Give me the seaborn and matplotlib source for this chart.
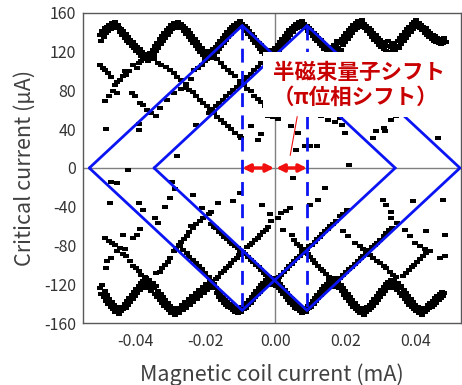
import numpy as np
import pandas as pd
import matplotlib
matplotlib.use("Agg")
import matplotlib.pyplot as plt
from matplotlib.ticker import MultipleLocator
import seaborn as sns

top_band = [
    (-0.0500, 137), (-0.0497, 131), (-0.0494, 141), (-0.0490, 135), (-0.0487, 144), (-0.0484, 139), (-0.0480, 146),
    (-0.0477, 141), (-0.0474, 148), (-0.0470, 143), (-0.0467, 150), (-0.0464, 145), (-0.0460, 147), (-0.0457, 151),
    (-0.0454, 144), (-0.0450, 148), (-0.0447, 145), (-0.0444, 140), (-0.0440, 143), (-0.0437, 137), (-0.0434, 141),
    (-0.0430, 134), (-0.0427, 138), (-0.0424, 131), (-0.0420, 135), (-0.0417, 129), (-0.0414, 132), (-0.0410, 126),
    (-0.0407, 130), (-0.0404, 124), (-0.0400, 127), (-0.0397, 121), (-0.0394, 125), (-0.0390, 119), (-0.0387, 123),
    (-0.0384, 116), (-0.0380, 120), (-0.0377, 114), (-0.0374, 118), (-0.0370, 112), (-0.0367, 117), (-0.0364, 110),
    (-0.0360, 115), (-0.0357, 119), (-0.0354, 113),
    (-0.0350, 122), (-0.0347, 117), (-0.0344, 126), (-0.0340, 121), (-0.0337, 129), (-0.0334, 124), (-0.0330, 133),
    (-0.0327, 128), (-0.0324, 136), (-0.0320, 131), (-0.0317, 139), (-0.0314, 134), (-0.0310, 142), (-0.0307, 137),
    (-0.0304, 145), (-0.0300, 140), (-0.0297, 148), (-0.0294, 143), (-0.0290, 150), (-0.0287, 146), (-0.0284, 149),
    (-0.0280, 145), (-0.0277, 151), (-0.0274, 147), (-0.0270, 149), (-0.0267, 144), (-0.0264, 147), (-0.0260, 141),
    (-0.0257, 145), (-0.0254, 138), (-0.0250, 142), (-0.0247, 135), (-0.0244, 139), (-0.0240, 132), (-0.0237, 136),
    (-0.0234, 129), (-0.0230, 133), (-0.0227, 126), (-0.0224, 130), (-0.0220, 123), (-0.0217, 127), (-0.0214, 120),
    (-0.0210, 124), (-0.0207, 117), (-0.0204, 121), (-0.0200, 115), (-0.0197, 119), (-0.0194, 112), (-0.0190, 117),
    (-0.0187, 121), (-0.0184, 114), (-0.0180, 119), (-0.0177, 123), (-0.0174, 117),
    (-0.0170, 125), (-0.0167, 120), (-0.0164, 128), (-0.0160, 123), (-0.0157, 131), (-0.0154, 126), (-0.0150, 134),
    (-0.0147, 129), (-0.0144, 137), (-0.0140, 132), (-0.0137, 140), (-0.0134, 135), (-0.0130, 143), (-0.0127, 138),
    (-0.0124, 146), (-0.0120, 141), (-0.0117, 148), (-0.0114, 144), (-0.0110, 150), (-0.0107, 146), (-0.0104, 149),
    (-0.0100, 152), (-0.0097, 146), (-0.0094, 149), (-0.0090, 144), (-0.0087, 147), (-0.0084, 141), (-0.0080, 144),
    (-0.0077, 138), (-0.0074, 141), (-0.0070, 135), (-0.0067, 138), (-0.0064, 132), (-0.0060, 135), (-0.0057, 129),
    (-0.0054, 132), (-0.0050, 126), (-0.0047, 129), (-0.0044, 123), (-0.0040, 127), (-0.0037, 120), (-0.0034, 124),
    (-0.0030, 118), (-0.0027, 122), (-0.0024, 116), (-0.0020, 120), (-0.0017, 114), (-0.0014, 119), (-0.0010, 122),
    (-0.0007, 116), (-0.0004, 121),
    (0.0000, 124), (0.0003, 119), (0.0007, 127), (0.0010, 122), (0.0013, 130), (0.0017, 125), (0.0020, 133),
    (0.0023, 128), (0.0027, 136), (0.0030, 131), (0.0033, 139), (0.0037, 134), (0.0040, 142), (0.0043, 137),
    (0.0047, 145), (0.0050, 140), (0.0053, 147), (0.0057, 143), (0.0060, 149), (0.0063, 145), (0.0067, 151),
    (0.0070, 147), (0.0073, 149), (0.0077, 152), (0.0080, 146), (0.0083, 149), (0.0087, 144), (0.0090, 147),
    (0.0093, 141), (0.0097, 145), (0.0100, 139), (0.0103, 142), (0.0107, 136), (0.0110, 139), (0.0113, 133),
    (0.0117, 137), (0.0120, 131), (0.0123, 134), (0.0127, 128), (0.0130, 132), (0.0133, 126), (0.0137, 129),
    (0.0140, 123), (0.0143, 127), (0.0147, 121), (0.0150, 125), (0.0153, 120), (0.0157, 124), (0.0160, 119),
    (0.0163, 123), (0.0167, 127), (0.0170, 121), (0.0173, 126), (0.0177, 131),
    (0.0180, 124), (0.0183, 129), (0.0187, 122), (0.0190, 133), (0.0193, 127), (0.0197, 136), (0.0200, 130),
    (0.0203, 139), (0.0207, 133), (0.0210, 142), (0.0213, 136), (0.0217, 145), (0.0220, 139), (0.0223, 148),
    (0.0227, 142), (0.0230, 150), (0.0233, 145), (0.0237, 152), (0.0240, 147), (0.0243, 150), (0.0247, 153),
    (0.0250, 146), (0.0253, 149), (0.0257, 144), (0.0260, 147), (0.0263, 141), (0.0267, 145), (0.0270, 138),
    (0.0273, 142), (0.0277, 135), (0.0280, 139), (0.0283, 132), (0.0287, 137), (0.0290, 130), (0.0293, 134),
    (0.0297, 127), (0.0300, 132), (0.0303, 125), (0.0307, 130), (0.0310, 123), (0.0313, 128), (0.0317, 121),
    (0.0320, 126), (0.0323, 131), (0.0327, 120), (0.0330, 125), (0.0333, 129), (0.0337, 122), (0.0340, 127),
    (0.0343, 120),
    (0.0347, 126), (0.0350, 131), (0.0353, 124), (0.0357, 134), (0.0360, 128), (0.0363, 137), (0.0367, 131),
    (0.0370, 140), (0.0373, 134), (0.0377, 143), (0.0380, 137), (0.0383, 146), (0.0387, 140), (0.0390, 149),
    (0.0393, 143), (0.0397, 151), (0.0400, 146), (0.0403, 153), (0.0407, 148), (0.0410, 150), (0.0413, 145),
    (0.0417, 148), (0.0420, 142), (0.0423, 146), (0.0427, 139), (0.0430, 144), (0.0433, 137), (0.0437, 141),
    (0.0440, 135), (0.0443, 139), (0.0447, 133), (0.0450, 137), (0.0453, 131), (0.0457, 136), (0.0460, 130),
    (0.0463, 134), (0.0467, 129), (0.0470, 133), (0.0473, 128), (0.0477, 132), (0.0480, 129), (0.0483, 134),
    (0.0487, 130),
]

bottom_band = [
    (-0.0500, -124), (-0.0497, -130), (-0.0494, -121), (-0.0490, -133), (-0.0487, -127), (-0.0484, -137),
    (-0.0480, -131), (-0.0477, -140), (-0.0474, -135), (-0.0470, -143), (-0.0467, -138), (-0.0464, -146),
    (-0.0460, -141), (-0.0457, -149), (-0.0454, -143), (-0.0450, -147), (-0.0447, -151), (-0.0444, -145),
    (-0.0440, -148), (-0.0437, -143), (-0.0434, -146), (-0.0430, -140), (-0.0427, -144), (-0.0424, -137),
    (-0.0420, -141), (-0.0417, -134), (-0.0414, -138), (-0.0410, -131), (-0.0407, -135), (-0.0404, -128),
    (-0.0400, -132), (-0.0397, -125), (-0.0394, -129), (-0.0390, -122), (-0.0387, -126), (-0.0384, -119),
    (-0.0380, -124), (-0.0377, -117), (-0.0374, -121), (-0.0370, -114), (-0.0367, -119), (-0.0364, -124),
    (-0.0360, -116), (-0.0357, -121), (-0.0354, -127),
    (-0.0350, -119), (-0.0347, -124), (-0.0344, -130), (-0.0340, -122), (-0.0337, -133), (-0.0334, -127),
    (-0.0330, -136), (-0.0327, -130), (-0.0324, -139), (-0.0320, -133), (-0.0317, -142), (-0.0314, -136),
    (-0.0310, -145), (-0.0307, -139), (-0.0304, -147), (-0.0300, -142), (-0.0297, -150), (-0.0294, -145),
    (-0.0290, -148), (-0.0287, -152), (-0.0284, -146), (-0.0280, -149), (-0.0277, -144), (-0.0274, -150),
    (-0.0270, -146), (-0.0267, -141), (-0.0264, -147), (-0.0260, -143), (-0.0257, -138), (-0.0254, -144),
    (-0.0250, -140), (-0.0247, -135), (-0.0244, -141), (-0.0240, -137), (-0.0237, -132), (-0.0234, -138),
    (-0.0230, -134), (-0.0227, -129), (-0.0224, -135), (-0.0220, -131), (-0.0217, -126), (-0.0214, -132),
    (-0.0210, -128), (-0.0207, -123), (-0.0204, -129), (-0.0200, -125), (-0.0197, -120), (-0.0194, -126),
    (-0.0190, -122), (-0.0187, -117), (-0.0184, -123), (-0.0180, -119), (-0.0177, -124), (-0.0174, -120),
    (-0.0170, -124), (-0.0167, -129), (-0.0164, -127), (-0.0160, -133), (-0.0157, -130), (-0.0154, -136),
    (-0.0150, -133), (-0.0147, -139), (-0.0144, -136), (-0.0140, -141), (-0.0137, -138), (-0.0134, -143),
    (-0.0130, -140), (-0.0127, -145), (-0.0124, -142), (-0.0120, -147), (-0.0117, -144), (-0.0114, -149),
    (-0.0110, -146), (-0.0107, -150), (-0.0104, -147), (-0.0100, -145), (-0.0097, -149), (-0.0094, -143),
    (-0.0090, -146), (-0.0087, -141), (-0.0084, -144), (-0.0080, -139), (-0.0077, -141), (-0.0074, -136),
    (-0.0070, -139), (-0.0067, -133), (-0.0064, -136), (-0.0060, -130), (-0.0057, -133), (-0.0054, -127),
    (-0.0050, -130), (-0.0047, -124), (-0.0044, -128), (-0.0040, -121), (-0.0037, -125), (-0.0034, -119),
    (-0.0030, -122), (-0.0027, -116), (-0.0024, -120), (-0.0020, -114), (-0.0017, -118), (-0.0014, -121),
    (-0.0010, -116), (-0.0007, -119), (-0.0004, -114),
    (0.0000, -118), (0.0003, -122), (0.0007, -117), (0.0010, -124), (0.0013, -120), (0.0017, -127),
    (0.0020, -123), (0.0023, -130), (0.0027, -126), (0.0030, -133), (0.0033, -129), (0.0037, -136),
    (0.0040, -132), (0.0043, -139), (0.0047, -135), (0.0050, -141), (0.0053, -138), (0.0057, -144),
    (0.0060, -140), (0.0063, -146), (0.0067, -143), (0.0070, -148), (0.0073, -145), (0.0077, -150),
    (0.0080, -147), (0.0083, -144), (0.0087, -149), (0.0090, -146), (0.0093, -142), (0.0097, -145),
    (0.0100, -140), (0.0103, -143), (0.0107, -137), (0.0110, -140), (0.0113, -134), (0.0117, -137),
    (0.0120, -131), (0.0123, -134), (0.0127, -128), (0.0130, -131), (0.0133, -125), (0.0137, -128),
    (0.0140, -122), (0.0143, -126), (0.0147, -120), (0.0150, -123), (0.0153, -117), (0.0157, -121),
    (0.0160, -115), (0.0163, -119), (0.0167, -123), (0.0170, -117), (0.0173, -121), (0.0177, -114),
    (0.0180, -119), (0.0183, -124), (0.0187, -121), (0.0190, -127), (0.0193, -124), (0.0197, -131),
    (0.0200, -127), (0.0203, -134), (0.0207, -130), (0.0210, -137), (0.0213, -133), (0.0217, -140),
    (0.0220, -136), (0.0223, -143), (0.0227, -139), (0.0230, -146), (0.0233, -142), (0.0237, -148),
    (0.0240, -144), (0.0243, -150), (0.0247, -146), (0.0250, -148), (0.0253, -152), (0.0257, -145),
    (0.0260, -149), (0.0263, -143), (0.0267, -147), (0.0270, -141), (0.0273, -144), (0.0277, -138),
    (0.0280, -142), (0.0283, -135), (0.0287, -139), (0.0290, -132), (0.0293, -136), (0.0297, -129),
    (0.0300, -133), (0.0303, -126), (0.0307, -130), (0.0310, -123), (0.0313, -127), (0.0317, -120),
    (0.0320, -124), (0.0323, -118), (0.0327, -122), (0.0330, -116), (0.0333, -120), (0.0337, -124),
    (0.0340, -117), (0.0343, -121), (0.0347, -126), (0.0350, -119), (0.0353, -124), (0.0357, -129),
    (0.0360, -122), (0.0363, -132), (0.0367, -126), (0.0370, -135), (0.0373, -129), (0.0377, -138),
    (0.0380, -132), (0.0383, -141), (0.0387, -135), (0.0390, -143), (0.0393, -138), (0.0397, -146),
    (0.0400, -141), (0.0403, -148), (0.0407, -143), (0.0410, -150), (0.0413, -145), (0.0417, -148),
    (0.0420, -152), (0.0423, -146), (0.0427, -149), (0.0430, -144), (0.0433, -147), (0.0437, -141),
    (0.0440, -145), (0.0443, -139), (0.0447, -143), (0.0450, -137), (0.0453, -141), (0.0457, -134),
    (0.0460, -139), (0.0463, -132), (0.0467, -136), (0.0470, -130), (0.0473, -134), (0.0477, -128),
    (0.0480, -132), (0.0483, -129),
]

upper_branches = [
    (-0.0500, 106), (-0.0493, 103), (-0.0487, 101), (-0.0477, 98), (-0.0468, 94), (-0.0410, 77), (-0.0400, 74),
    (-0.0387, 67), (-0.0377, 65), (-0.0365, 60), (-0.0354, 57), (-0.0340, 54),
    (-0.0487, 69), (-0.0475, 74), (-0.0463, 79), (-0.0453, 77), (-0.0458, 86), (-0.0453, 89), (-0.0444, 91),
    (-0.0434, 95), (-0.0425, 96), (-0.0430, 100), (-0.0418, 100), (-0.0405, 106), (-0.0395, 103), (-0.0390, 108),
    (-0.0382, 110),
    (-0.0345, 112), (-0.0335, 108), (-0.0325, 106), (-0.0312, 104), (-0.0300, 101), (-0.0290, 98), (-0.0280, 94),
    (-0.0270, 91), (-0.0254, 83), (-0.0245, 81), (-0.0234, 78), (-0.0225, 74), (-0.0215, 70), (-0.0205, 67),
    (-0.0195, 64), (-0.0186, 61), (-0.0175, 57), (-0.0165, 53), (-0.0155, 50), (-0.0145, 46), (-0.0135, 43),
    (-0.0125, 40), (-0.0115, 36), (-0.0100, 33),
    (-0.0390, 45), (-0.0330, 62), (-0.0310, 70), (-0.0290, 77), (-0.0270, 82), (-0.0254, 87), (-0.0240, 92),
    (-0.0231, 101), (-0.0220, 103), (-0.0210, 106), (-0.0200, 110),
    (-0.0165, 112), (-0.0155, 108), (-0.0145, 104), (-0.0135, 101), (-0.0125, 98), (-0.0115, 95), (-0.0100, 90),
    (-0.0090, 86), (-0.0080, 82), (-0.0070, 79), (-0.0060, 74), (-0.0050, 71), (-0.0040, 68), (-0.0030, 64),
    (-0.0020, 57), (-0.0006, 53), (0.0009, 51),
    (-0.0190, 57), (-0.0180, 61), (-0.0170, 64), (-0.0160, 67), (-0.0150, 70), (-0.0140, 74), (-0.0130, 77),
    (-0.0120, 80), (-0.0110, 84), (-0.0100, 87), (-0.0090, 90), (-0.0080, 94), (-0.0070, 97), (-0.0060, 101),
    (-0.0050, 104), (-0.0040, 108),
]

lower_branches = [
    (-0.0372, -113), (-0.0383, -110), (-0.0390, -106), (-0.0397, -103), (-0.0406, -101), (-0.0415, -96),
    (-0.0425, -91), (-0.0434, -89), (-0.0430, -84), (-0.0444, -83), (-0.0453, -86), (-0.0458, -79),
    (-0.0466, -77), (-0.0475, -75), (-0.0487, -72),
    (-0.0483, -103), (-0.0480, -96), (-0.0470, -93), (-0.0434, -69), (-0.0406, -72), (-0.0396, -69), (-0.0385, -63),
    (-0.0340, -108), (-0.0330, -107), (-0.0322, -103), (-0.0315, -100), (-0.0306, -97), (-0.0300, -93),
    (-0.0290, -86), (-0.0282, -83), (-0.0275, -79), (-0.0268, -76), (-0.0260, -73), (-0.0253, -70),
    (-0.0245, -66), (-0.0234, -62), (-0.0225, -58), (-0.0216, -55), (-0.0205, -52), (-0.0190, -47), (-0.0183, -45),
    (-0.0190, -113), (-0.0200, -108), (-0.0210, -104), (-0.0218, -101), (-0.0226, -98), (-0.0235, -95),
    (-0.0245, -92), (-0.0253, -88), (-0.0262, -85), (-0.0272, -81),
    (-0.0182, -58), (-0.0175, -61), (-0.0168, -62), (-0.0160, -66), (-0.0152, -68), (-0.0145, -71),
    (-0.0137, -73), (-0.0130, -76), (-0.0122, -78), (-0.0115, -81), (-0.0107, -83), (-0.0100, -86),
    (-0.0093, -87), (-0.0085, -89), (-0.0078, -92), (-0.0070, -95), (-0.0062, -97), (-0.0055, -100),
    (-0.0047, -102), (-0.0040, -105), (-0.0032, -108), (-0.0025, -110), (-0.0017, -112), (-0.0010, -115),
    (-0.0170, -115), (-0.0162, -112), (-0.0155, -108), (-0.0147, -106), (-0.0140, -103), (-0.0132, -101),
    (-0.0125, -98), (-0.0117, -95), (-0.0110, -93), (-0.0102, -90), (-0.0095, -88), (-0.0080, -82),
    (-0.0072, -80), (-0.0065, -77), (-0.0057, -74), (-0.0050, -72), (-0.0042, -69), (-0.0035, -66),
    (-0.0027, -64), (-0.0020, -61), (-0.0011, -55), (0.0009, -52), (0.0018, -46), (0.0030, -44),
    (-0.0039, -38), (-0.0015, -47), (0.0023, -64), (0.0047, -69), (0.0055, -74), (0.0062, -78), (0.0070, -81),
    (0.0078, -84), (0.0085, -86), (0.0093, -89), (0.0100, -92), (0.0108, -95), (0.0115, -98), (0.0123, -101),
    (0.0130, -104), (0.0138, -106), (0.0145, -109), (0.0153, -112), (0.0160, -114),
    (0.0010, -112), (0.0018, -110), (0.0025, -107), (0.0033, -104), (0.0040, -101), (0.0048, -99),
    (0.0055, -96), (0.0063, -93), (0.0070, -91), (0.0078, -88), (0.0090, -84), (0.0098, -81), (0.0105, -79),
    (0.0113, -76), (0.0120, -73), (0.0128, -71), (0.0135, -68), (0.0143, -65), (0.0150, -63), (0.0158, -60),
    (0.0165, -58), (0.0175, -55), (0.0185, -50), (0.0194, -48), (0.0204, -43),
    (0.0185, -114), (0.0194, -110), (0.0203, -107), (0.0212, -104), (0.0220, -102), (0.0228, -99),
    (0.0236, -96), (0.0244, -93), (0.0252, -91), (0.0260, -88), (0.0268, -85), (0.0276, -82), (0.0284, -80),
    (0.0292, -77), (0.0300, -74), (0.0310, -70), (0.0318, -67), (0.0326, -64), (0.0334, -62), (0.0347, -57),
    (0.0332, -52),
    (0.0194, -65), (0.0209, -70), (0.0228, -77), (0.0242, -81), (0.0250, -84), (0.0260, -86), (0.0270, -90),
    (0.0280, -93), (0.0290, -96), (0.0300, -98), (0.0310, -101), (0.0318, -103), (0.0327, -107),
    (0.0337, -110), (0.0346, -113),
    (0.0366, -111), (0.0374, -108), (0.0382, -105), (0.0390, -102), (0.0398, -100), (0.0406, -97),
    (0.0414, -94), (0.0422, -91), (0.0430, -88), (0.0442, -86), (0.0470, -93), (0.0485, -91),
    (0.0370, -64), (0.0385, -70), (0.0400, -77), (0.0413, -81), (0.0428, -84), (0.0485, -69), (0.0432, -65),
]

sparse_points = [
    (-0.0482, 40), (-0.0390, 39), (-0.0280, 12), (-0.0226, 44), (-0.0420, -2), (0.0046, 43), (0.0066, 36),
    (0.0060, 19), (0.0086, 23), (0.0100, 23), (0.0120, 23), (0.0130, 54), (0.0150, 50), (0.0170, 47),
    (0.0186, 52), (0.0190, 44), (0.0200, 36), (0.0210, 3), (0.0280, 31), (0.0289, 38), (0.0310, 41),
    (0.0313, 38), (0.0330, 50), (0.0346, 54), (0.0466, 31), (-0.0097, 31), (-0.0070, 43), (-0.0050, 29),
    (-0.0040, 35), (-0.0020, 54),
    (-0.0468, -14), (-0.0453, -16), (-0.0472, -36), (-0.0390, -36), (-0.0377, -43), (-0.0344, -52),
    (-0.0334, -57), (-0.0296, -14), (-0.0287, -22), (-0.0300, -31), (-0.0315, -40), (-0.0234, -28),
    (-0.0210, -41), (-0.0240, -60), (-0.0163, -36), (-0.0182, -45), (-0.0120, -34), (-0.0101, -26),
    (0.0051, -10), (0.0142, -21), (0.0123, -33), (0.0099, -38), (0.0042, -41), (0.0309, -33), (0.0318, -38),
    (0.0332, -45), (0.0394, -34), (0.0480, -33),
]

# single-lobe guides (blue)
lobe_centers = [-0.0094, 0.0091]
lobe_halfwidth = 0.0437
lobe_height = 147

x_ticks = [-0.04, -0.02, 0.0, 0.02, 0.04]
x_ticklabels = ["-0.04", "-0.02", "0.00", "0.02", "0.04"]
y_ticks = [-160, -120, -80, -40, 0, 40, 80, 120, 160]

sns.set_style("white")
plt.rcParams["font.family"] = ["Noto Sans CJK JP", "DejaVu Sans"]
plt.rcParams["axes.unicode_minus"] = False

df = pd.DataFrame(top_band + bottom_band + upper_branches + lower_branches + sparse_points,
                  columns=["coil", "ic"])

fig = plt.figure(figsize=(4.62, 3.85), dpi=100)
ax = fig.add_axes([83 / 462, 1 - 323 / 385, 378 / 462, 310 / 385])

ax.axhline(0, color="#808080", lw=1, zorder=1)
ax.axvline(0, color="#808080", lw=1, zorder=1)

# points in the original look like short horizontal dashes
dash_marker = [(-2, -1.3), (2, -1.3), (2, 1.3), (-2, 1.3), (-2, -1.3)]
sns.scatterplot(data=df, x="coil", y="ic", ax=ax, color="black", marker=dash_marker, s=17,
                linewidth=0, zorder=2, legend=False)

for c in lobe_centers:
    dx = [c - lobe_halfwidth, c, c + lobe_halfwidth, c, c - lobe_halfwidth]
    dy = [0, lobe_height, 0, -lobe_height, 0]
    ax.plot(dx, dy, color="#0b14f2", lw=2, zorder=3, solid_joinstyle="miter")
    ax.plot([c, c], [lobe_height, -lobe_height], color="#0b14f2", lw=2,
            ls=(0, (5, 3)), zorder=3)

red = "#f01010"
ax.annotate("", xy=(lobe_centers[0], 0), xytext=(-0.0003, 0),
            arrowprops=dict(arrowstyle="<|-|>", color=red, lw=2.5, mutation_scale=11,
                            shrinkA=0, shrinkB=0), zorder=5)
ax.annotate("", xy=(lobe_centers[1], 0), xytext=(0.0003, 0),
            arrowprops=dict(arrowstyle="<|-|>", color=red, lw=2.5, mutation_scale=11,
                            shrinkA=0, shrinkB=0), zorder=5)
ax.annotate("", xy=(0.0043, 13), xytext=(0.0063, 53),
            arrowprops=dict(arrowstyle="-", color=red, lw=0.8, shrinkA=0, shrinkB=0), zorder=5)

ax.text(-0.0006, 86, "半磁束量子シフト\n（π位相シフト）", color="#c80000", fontsize=15.5,
        fontweight="bold", ha="left", va="center", linespacing=1.2, zorder=4,
        bbox=dict(boxstyle="square,pad=0.45", fc="white", ec="none"))

ax.set_xlim(-0.0549, 0.0531)
ax.set_ylim(-160, 160)
ax.set_xticks(x_ticks)
ax.set_xticklabels(x_ticklabels)
ax.set_yticks(y_ticks)
ax.xaxis.set_minor_locator(MultipleLocator(0.01))
ax.yaxis.set_minor_locator(MultipleLocator(20))
ax.tick_params(which="both", direction="in", length=4, width=0.8, color="#595959",
               labelsize=11.5, labelcolor="#333333")
ax.tick_params(axis="x", pad=7)
ax.tick_params(axis="y", pad=5)
for s in ax.spines.values():
    s.set_color("#595959")
    s.set_linewidth(1)

ax.set_xlabel("Magnetic coil current (mA)", fontsize=15.5, color="#404040", labelpad=10)
ax.set_ylabel("Critical current (µA)", fontsize=15.5, color="#404040", labelpad=6)

fig.savefig("out.png", dpi=100)
